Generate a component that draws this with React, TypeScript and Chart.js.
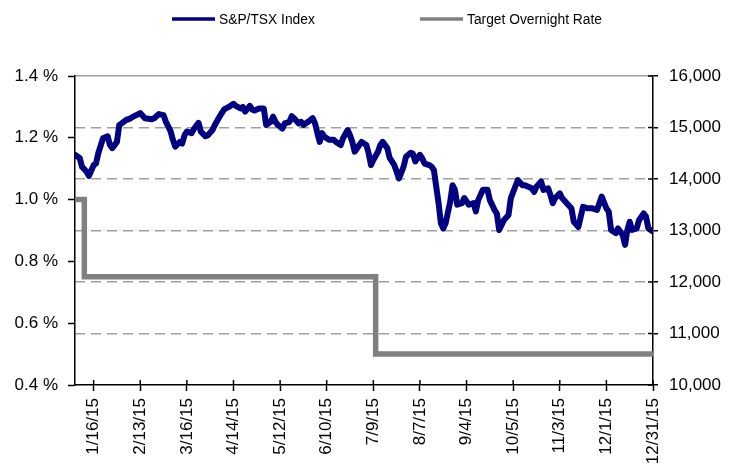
import React, { useEffect, useRef } from "react";
import { Chart, registerables } from "chart.js";

Chart.register(...registerables);

// Trading-day positions of the x-axis tick labels
const TICK_POS = [8, 28, 48, 68, 88, 108, 128, 148, 168, 188, 208, 228, 248];
const TICK_LABELS = [
  "1/16/15", "2/13/15", "3/16/15", "4/14/15", "5/12/15", "6/10/15", "7/9/15",
  "8/7/15", "9/4/15", "10/5/15", "11/3/15", "12/1/15", "12/31/15",
];
const X_MAX = 248;

// S&P/TSX Index (trading-day index, level)
const TSX_IDX = [
  0, 2, 3, 5, 6, 8, 9, 10, 12, 14, 15, 16, 18, 19, 20, 22, 23, 25, 28, 30,
  33, 34, 36, 38, 39, 41, 42, 43, 45, 46, 47, 48, 50, 51, 53, 54, 56, 57, 59, 60,
  62, 64, 66, 68, 69, 71, 72, 73, 75, 76, 77, 79, 81, 82, 84, 85, 86, 87, 89, 90,
  92, 93, 94, 96, 97, 98, 100, 102, 103, 104, 105, 106, 107, 109, 111, 112, 114, 115, 117, 118,
  119, 120, 122, 123, 125, 126, 127, 128, 130, 131, 132, 134, 135, 136, 137, 138, 139, 141, 142, 144,
  145, 146, 148, 149, 150, 152, 153, 154, 155, 156, 157, 158, 159, 161, 162, 163, 164, 166, 167, 169,
  171, 172, 173, 175, 177, 178, 180, 181, 182, 184, 186, 187, 190, 192, 193, 196, 197, 198, 200, 201,
  203, 204, 205, 206, 208, 209, 211, 213, 214, 216, 217, 218, 220, 222, 224, 226, 228, 229, 230, 232,
  233, 235, 236, 237, 238, 239, 241, 242, 244, 245, 246, 248,
];
const TSX_VALUES = [
  14470, 14410, 14240, 14140, 14060, 14270, 14300, 14500, 14790, 14830, 14660, 14600, 14720, 15050, 15080, 15150, 15160, 15210, 15280, 15180,
  15160, 15180, 15260, 15240, 15110, 14930, 14760, 14630, 14720, 14690, 14850, 14920, 14890, 14970, 15090, 14920, 14830, 14850, 14950, 15050,
  15210, 15350, 15400, 15460, 15420, 15370, 15400, 15310, 15420, 15350, 15330, 15370, 15370, 15050, 15110, 15210, 15110, 15050, 14980, 15080,
  15110, 15220, 15180, 15080, 15110, 15050, 15110, 15180, 15080, 14890, 14720, 14890, 14820, 14760, 14760, 14720, 14660, 14790, 14950, 14850,
  14720, 14530, 14660, 14720, 14660, 14500, 14270, 14370, 14530, 14660, 14720, 14600, 14410, 14340, 14270, 14140, 14010, 14240, 14430, 14510,
  14490, 14340, 14470, 14400, 14300, 14270, 14240, 14170, 13850, 13530, 13140, 13040, 13140, 13560, 13880, 13790, 13500, 13530, 13630, 13500,
  13530, 13370, 13590, 13790, 13790, 13590, 13400, 13330, 13010, 13200, 13300, 13630, 13980, 13880, 13880, 13820, 13750, 13850, 13950, 13790,
  13820, 13690, 13530, 13630, 13720, 13630, 13530, 13430, 13170, 13070, 13270, 13460, 13430, 13430, 13400, 13660, 13430, 13370, 13010, 12950,
  13040, 12910, 12720, 13010, 13170, 13010, 13040, 13200, 13330, 13270, 13040, 12980,
];

// Bank of Canada target overnight rate (%), step changes
const RATE_IDX = [0, 4, 129, 248];
const RATE_VALUES = [1.0, 0.75, 0.5, 0.5];

const SERIES_LABELS = ["S&P/TSX Index", "Target Overnight Rate"];
const SERIES_COLORS = ["#000080", "#808080"];

const FONT = '"Liberation Sans", Arial, Helvetica, sans-serif';

const legendPlugin = {
  id: "customLegend",
  afterDraw(chart: any) {
    const ctx = chart.ctx;
    const starts = [172, 420];
    const y = 19;
    ctx.save();
    ctx.font = `13.8px ${FONT}`;
    ctx.textBaseline = "middle";
    ctx.textAlign = "left";
    chart.data.datasets.forEach((ds: any, i: number) => {
      ctx.strokeStyle = ds.borderColor;
      ctx.lineWidth = 3.5;
      ctx.beginPath();
      ctx.moveTo(starts[i], y);
      ctx.lineTo(starts[i] + 43, y);
      ctx.stroke();
      ctx.fillStyle = "#000";
      ctx.fillText(ds.label, starts[i] + 47, y + 1);
    });
    ctx.restore();
  },
};

const innerTicksPlugin = {
  id: "innerTicks",
  afterDraw(chart: any) {
    const ctx = chart.ctx;
    ctx.save();
    ctx.strokeStyle = "#000";
    ctx.lineWidth = 1.5;
    const r = chart.scales.y1;
    r.ticks.forEach((t: any) => {
      const py = r.getPixelForValue(t.value);
      ctx.beginPath();
      ctx.moveTo(r.left - 5, py);
      ctx.lineTo(r.left, py);
      ctx.stroke();
    });
    const xs = chart.scales.x;
    xs.ticks.forEach((t: any) => {
      const px = xs.getPixelForValue(t.value);
      ctx.beginPath();
      ctx.moveTo(px, xs.top - 5);
      ctx.lineTo(px, xs.top);
      ctx.stroke();
    });
    ctx.restore();
  },
};

export default function App() {
  const canvasRef = useRef<HTMLCanvasElement | null>(null);

  useEffect(() => {
    if (!canvasRef.current) return;
    Chart.defaults.font.family = FONT;
    const chart = new Chart(canvasRef.current, {
      type: "line",
      data: {
        datasets: [
          {
            label: SERIES_LABELS[0],
            data: TSX_IDX.map((x, i) => ({ x, y: TSX_VALUES[i] })),
            yAxisID: "y1",
            borderColor: SERIES_COLORS[0],
            backgroundColor: SERIES_COLORS[0],
            borderWidth: 6,
            pointRadius: 0,
            tension: 0,
            borderJoinStyle: "round",
            borderCapStyle: "round",
          },
          {
            label: SERIES_LABELS[1],
            data: RATE_IDX.map((x, i) => ({ x, y: RATE_VALUES[i] })),
            yAxisID: "y",
            borderColor: SERIES_COLORS[1],
            backgroundColor: SERIES_COLORS[1],
            borderWidth: 5.5,
            pointRadius: 0,
            stepped: true,
          },
        ],
      },
      options: {
        animation: false,
        responsive: true,
        maintainAspectRatio: false,
        layout: { padding: { top: 76, left: 0, right: 0, bottom: 0 } },
        plugins: {
          legend: { display: false },
          tooltip: { enabled: false },
        },
        scales: {
          x: {
            type: "linear",
            min: 0,
            max: X_MAX,
            afterBuildTicks: (scale: any) => {
              scale.ticks = TICK_POS.map((v) => ({ value: v }));
            },
            afterFit: (scale: any) => {
              scale.height = 79;
            },
            ticks: {
              autoSkip: false,
              minRotation: 90,
              maxRotation: 90,
              padding: 7,
              color: "#000",
              font: { size: 17 },
              callback: (_v: any, i: number) => TICK_LABELS[i],
            },
            grid: {
              drawOnChartArea: false,
              drawTicks: true,
              tickLength: 6,
              tickColor: "#000",
              tickWidth: 1.5,
            },
            border: { display: true, color: "#000", width: 1.5 },
          },
          y: {
            type: "linear",
            position: "left",
            min: 0.4,
            max: 1.4,
            afterFit: (scale: any) => {
              scale.width = 75;
            },
            ticks: {
              stepSize: 0.2,
              padding: 10,
              color: "#000",
              font: { size: 17 },
              callback: (v: any) => Number(v).toFixed(1) + " %",
            },
            grid: {
              drawOnChartArea: false,
              drawTicks: true,
              tickLength: 7,
              tickColor: "#000",
              tickWidth: 1.5,
            },
            border: { display: true, color: "#000", width: 1.5 },
          },
          y1: {
            type: "linear",
            position: "right",
            min: 10000,
            max: 16000,
            afterFit: (scale: any) => {
              scale.width = 87;
            },
            ticks: {
              stepSize: 1000,
              padding: 11,
              color: "#000",
              font: { size: 17 },
              callback: (v: any) => Number(v).toLocaleString("en-US"),
            },
            grid: {
              drawOnChartArea: true,
              drawTicks: true,
              tickLength: 5,
              tickColor: "#000",
              tickWidth: 1.5,
              lineWidth: 1.5,
              color: (c: any) =>
                c.tick && c.tick.value === 10000 ? "rgba(0,0,0,0)" : "#a0a0a0",
            },
            border: {
              display: true,
              color: "#000",
              width: 1.5,
              dash: (c: any) => (c.tick && c.tick.value === 16000 ? [] : [10, 6]),
            },
          },
        },
      } as any,
      plugins: [legendPlugin, innerTicksPlugin],
    });
    return () => chart.destroy();
  }, []);

  return (
    <div
      style={{
        position: "fixed",
        left: 0,
        top: 0,
        width: 740,
        height: 464,
        background: "#fff",
      }}
    >
      <canvas ref={canvasRef} />
    </div>
  );
}
